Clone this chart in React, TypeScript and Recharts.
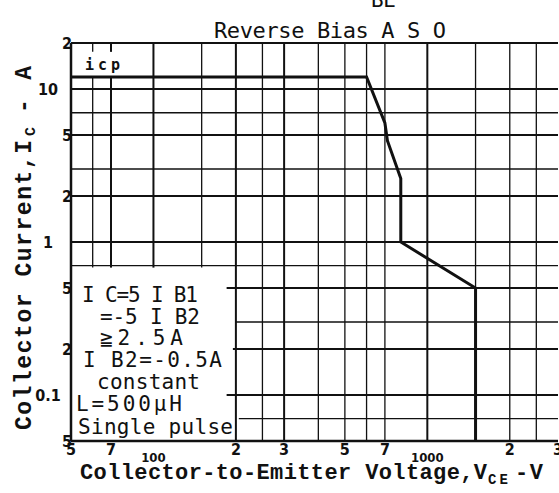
import React from "react";
import { LineChart, Line, XAxis, YAxis, ReferenceLine } from "recharts";

// --- SOA boundary (V_CE in V, I_C in A) ---
const vce = [50, 600, 700, 715, 800, 800, 1500, 1500];
const ic = [12, 12, 6, 4.6, 2.6, 1, 0.5, 0.05];

// --- tick labels as printed on the sheet ---
const xTicks = [50, 70, 100, 200, 300, 500, 700, 1000, 2000, 3000];
const xTickLabels = ["5", "7", "100", "2", "3", "5", "7", "1000", "2", "3"];
const yTicks = [0.05, 0.1, 0.2, 0.5, 1, 2, 5, 10, 20];
const yTickLabels = ["5", "0.1", "2", "5", "1", "2", "5", "10", "2"];

// --- log paper grid ---
const xGrid = [60, 70, 100, 150, 200, 250, 300, 400, 500, 600, 700, 1000, 1500, 2000, 2500];
const yGrid = [0.07, 0.1, 0.2, 0.3, 0.5, 0.7, 1, 2, 3, 5, 7, 10];

const data = vce.map((v, k) => ({ v, i: ic[k] }));

const INK = "#111";
const MONO = "'DejaVu Sans Mono', monospace";
const LABEL = "'Liberation Mono', monospace";
const DIGITS = "'DejaVu Sans Condensed', 'DejaVu Sans', sans-serif";

// the note box and the "icp" label sit on blanked-out paper
const vertSegments = (v: number): [number, number][] => {
  if (v <= 70) return [[0.68, 12], [17.5, 20]];
  if (v <= 150) return [[0.68, 20]];
  return [[0.05, 20]];
};
const horizStart: Record<number, number> = { 0.5: 185, 0.3: 200, 0.2: 195, 0.1: 185, 0.07: 205 };
const heavyX = [70, 100, 200, 300, 1000];
const heavyY = [0.1, 0.2, 0.5, 1, 2, 5, 10];

const renderXTick = (props: any) => {
  const k = xTicks.indexOf(props.payload.value);
  const label = xTickLabels[k] ?? "";
  const decade = label.length > 1;
  return (
    <text
      key={`xt${k}`}
      x={props.x}
      y={decade ? 462 : 455}
      textAnchor="middle"
      fontFamily={DIGITS}
      fontWeight="bold"
      fontSize={decade ? 13 : 16}
      fill={INK}
    >
      {label}
    </text>
  );
};

const renderYTick = (props: any) => {
  const k = yTicks.indexOf(props.payload.value);
  const label = yTickLabels[k] ?? "";
  const decade = label !== "2" && label !== "5";
  return (
    <text
      key={`yt${k}`}
      x={decade ? 48 : 72}
      y={props.y + 6}
      textAnchor={decade ? "middle" : "end"}
      fontFamily={DIGITS}
      fontWeight="bold"
      fontSize={16}
      fill={INK}
    >
      {label}
    </text>
  );
};

export default function App() {
  return (
    <div style={{ position: "absolute", left: 0, top: 0, width: 559, height: 493, background: "#fff" }}>
      <LineChart width={559} height={493} data={data} margin={{ top: 43, right: 1, bottom: 42, left: 61 }}>
        <XAxis
          dataKey="v"
          type="number"
          scale="log"
          domain={[50, 3000]}
          allowDataOverflow
          ticks={xTicks}
          interval={0}
          tick={renderXTick}
          tickLine={false}
          height={10}
          axisLine={{ stroke: INK, strokeWidth: 2.5 }}
        />
        <YAxis
          type="number"
          scale="log"
          domain={[0.05, 20]}
          allowDataOverflow
          ticks={yTicks}
          interval={0}
          tick={renderYTick}
          tickLine={false}
          width={10}
          axisLine={{ stroke: INK, strokeWidth: 2.5 }}
        />
        {xGrid.flatMap((v) =>
          vertSegments(v).map(([a, b], s) => (
            <ReferenceLine
              key={`vx${v}-${s}`}
              segment={[{ x: v, y: a }, { x: v, y: b }]}
              stroke={INK}
              strokeWidth={heavyX.includes(v) ? 2 : 1.3}
              ifOverflow="visible"
            />
          ))
        )}
        {yGrid.map((y) => (
          <ReferenceLine
            key={`hy${y}`}
            segment={[{ x: horizStart[y] ?? 50, y }, { x: 3000, y }]}
            stroke={INK}
            strokeWidth={heavyY.includes(y) ? 2 : 1.3}
            ifOverflow="visible"
          />
        ))}
        <ReferenceLine y={20} stroke={INK} strokeWidth={2} />
        <Line
          type="linear"
          dataKey="i"
          stroke={INK}
          strokeWidth={3}
          dot={false}
          isAnimationActive={false}
        />
      </LineChart>

      <svg
        width={559}
        height={493}
        style={{ position: "absolute", left: 0, top: 0, pointerEvents: "none" }}
      >
        {/* title */}
        <text x={371} y={7} fontFamily={MONO} fontSize={21} fill={INK} textLength={25}>
          BE
        </text>
        <text x={214} y={38} fontFamily={MONO} fontSize={22} fill={INK} textLength={232}>
          Reverse Bias A S O
        </text>

        {/* y axis title */}
        <text
          x={31}
          y={430}
          transform="rotate(-90 31 430)"
          fontFamily={LABEL}
          fontWeight="bold"
          fontSize={23}
          fill={INK}
          textLength={290}
        >
          Collector Current,I
        </text>
        <text x={35} y={136} transform="rotate(-90 35 136)" fontFamily={LABEL} fontWeight="bold" fontSize={15} fill={INK}>
          C
        </text>
        <text
          x={31}
          y={113}
          transform="rotate(-90 31 113)"
          fontFamily={LABEL}
          fontWeight="bold"
          fontSize={23}
          fill={INK}
          textLength={47}
        >
          - A
        </text>

        {/* x axis title */}
        <text x={80} y={479} fontFamily={LABEL} fontWeight="bold" fontSize={22} fill={INK} textLength={407}>
          Collector-to-Emitter Voltage,V
        </text>
        <text x={488} y={484} fontFamily={LABEL} fontWeight="bold" fontSize={14} fill={INK} textLength={20}>
          CE
        </text>
        <text x={515} y={479} fontFamily={LABEL} fontWeight="bold" fontSize={22} fill={INK} textLength={28}>
          - V
        </text>

        {/* notes inside the plot */}
        <text x={85} y={70} fontFamily={MONO} fontWeight="bold" fontSize={15} fill={INK} textLength={35}>
          icp
        </text>
        <g fontFamily={MONO} fontSize={21} fill={INK}>
          <text x={82} y={302} textLength={116}>
            I C=5 I B1
          </text>
          <text x={100} y={324} textLength={100}>
            =-5 I B2
          </text>
          <text x={100} y={345} textLength={83}>
            ≧2.5A
          </text>
          <text x={83} y={367} textLength={139}>
            I B2=-0.5A
          </text>
          <text x={97} y={389} textLength={103}>
            constant
          </text>
          <text x={76} y={411} textLength={106}>
            L=500μH
          </text>
          <text x={78} y={434} textLength={155}>
            Single pulse
          </text>
        </g>
      </svg>
    </div>
  );
}
